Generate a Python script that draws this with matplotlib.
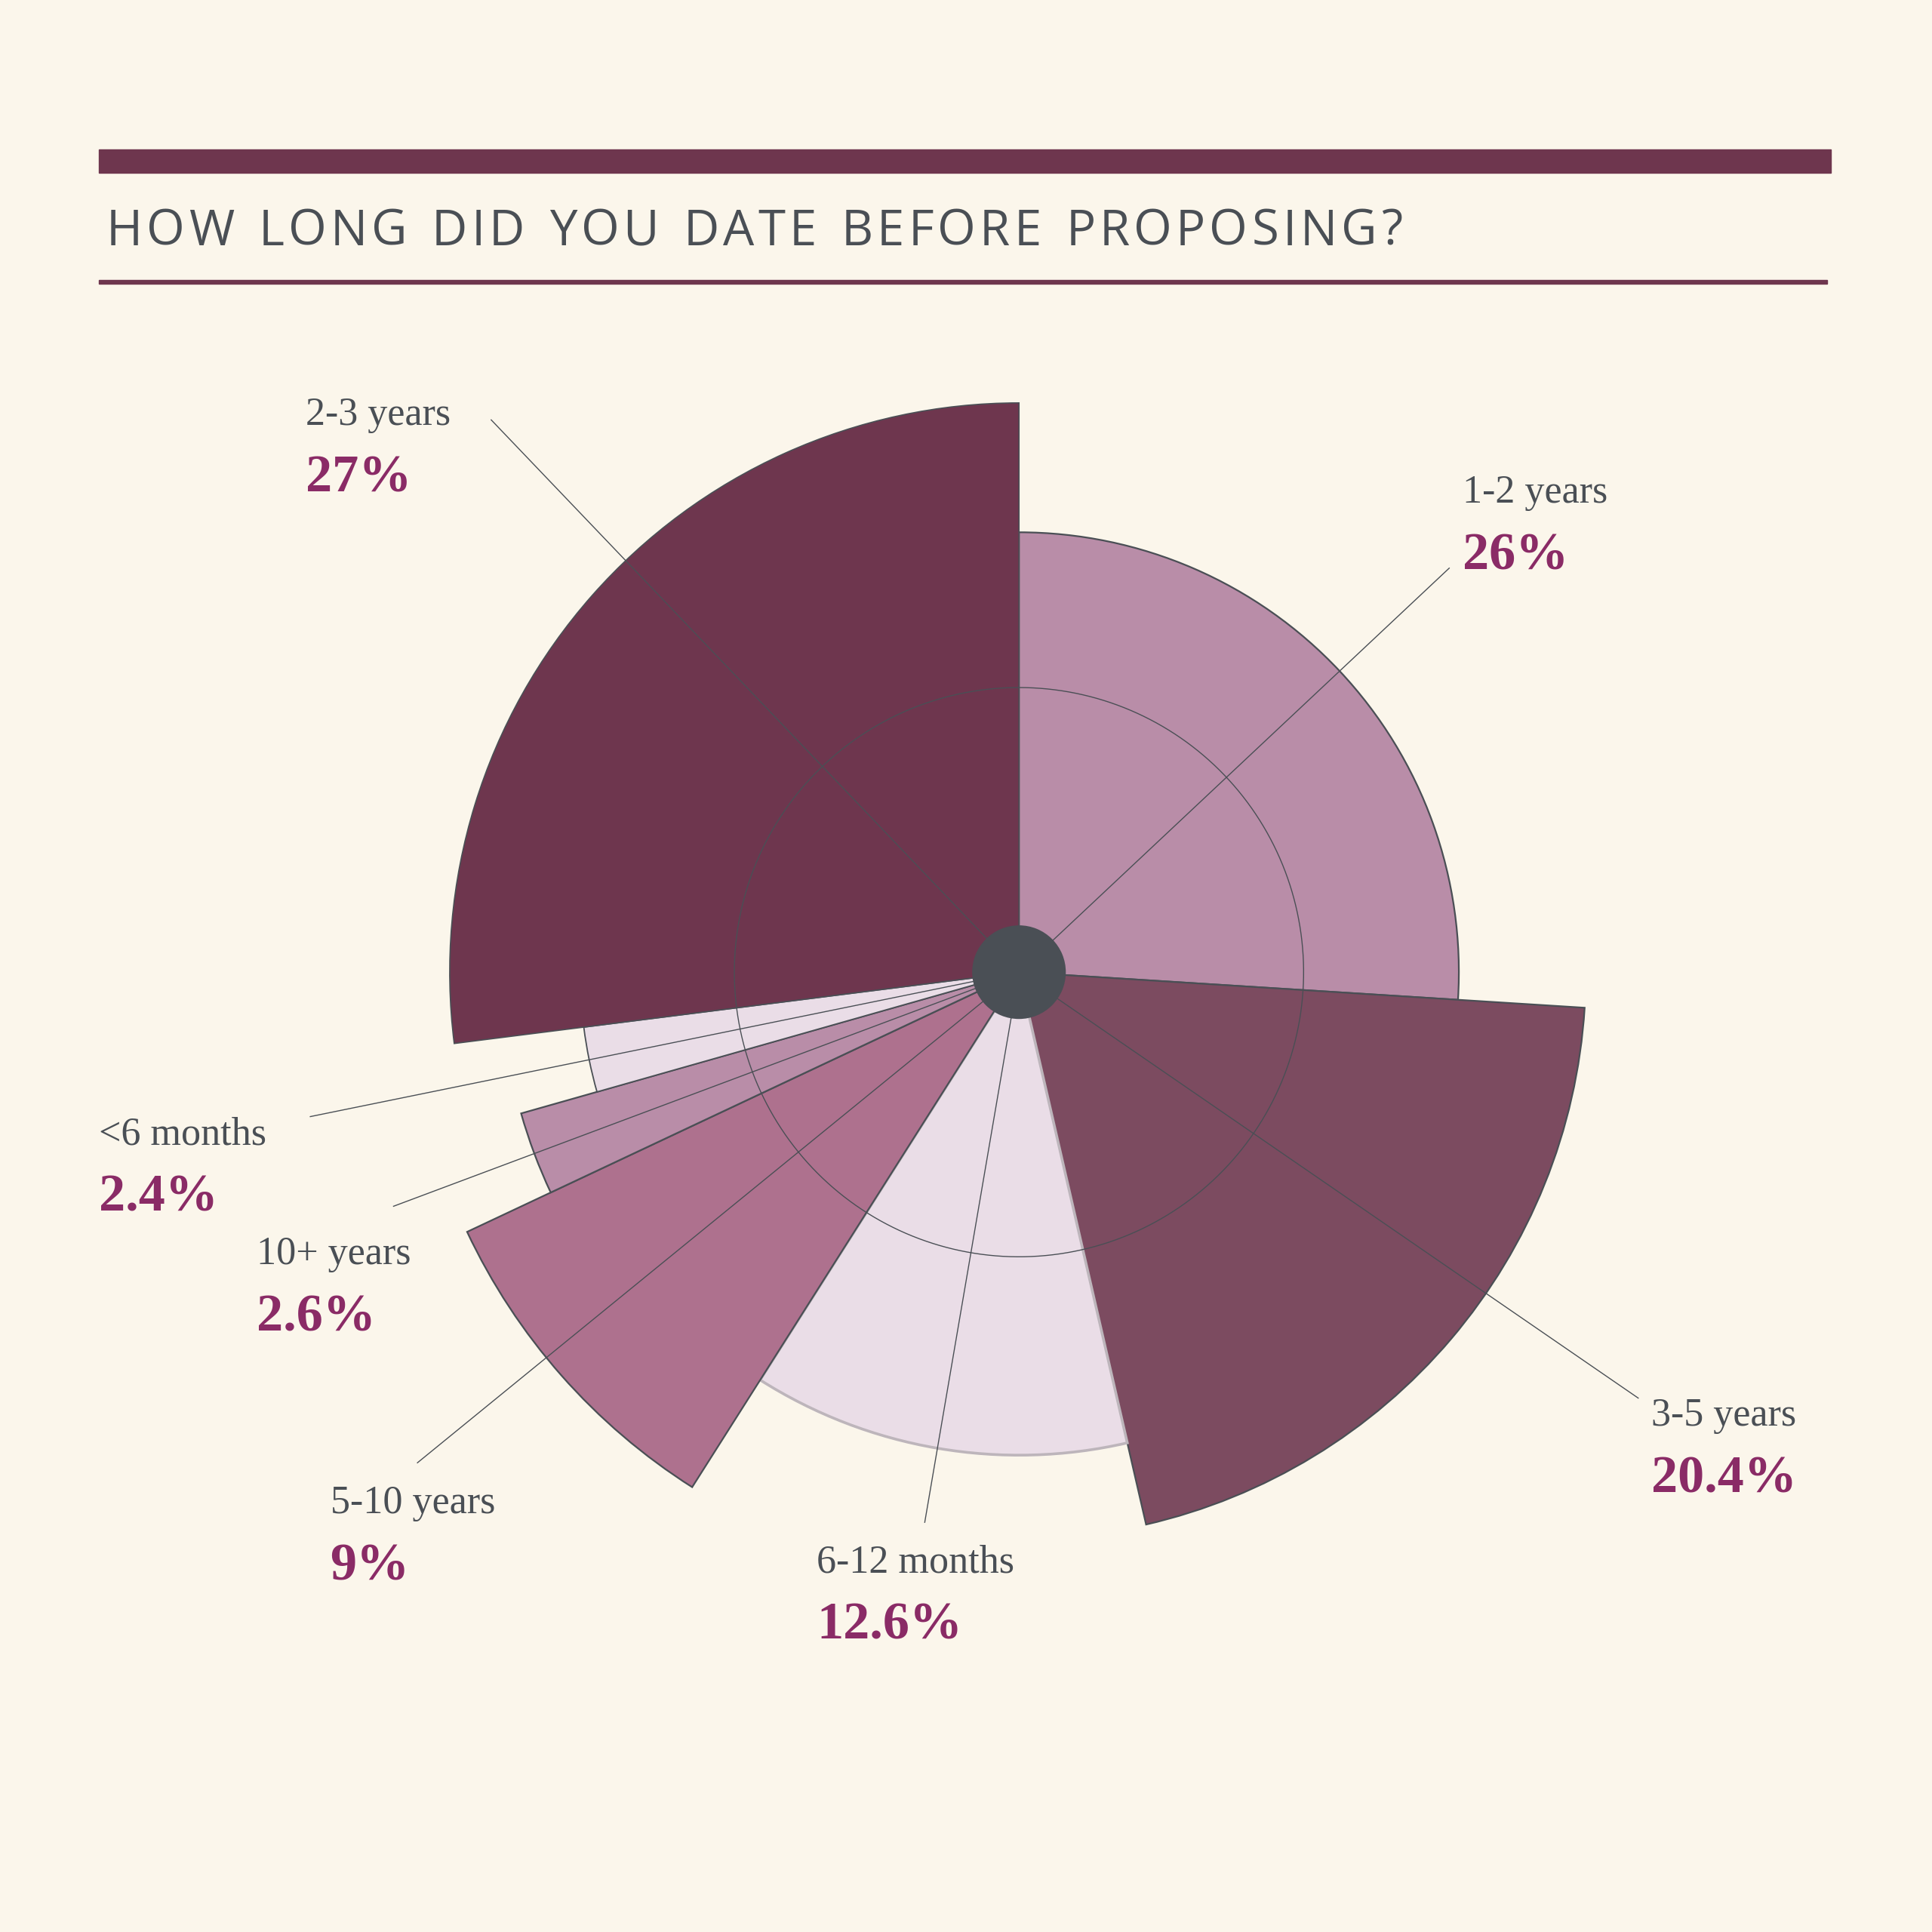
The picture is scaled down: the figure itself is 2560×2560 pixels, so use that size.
import numpy as np
import matplotlib.pyplot as plt
from matplotlib.patches import Rectangle

# data
categories = ['1-2 years', '3-5 years', '6-12 months', '5-10 years', '10+ years', '<6 months', '2-3 years']
shares = [26, 20.4, 12.6, 9, 2.6, 2.4, 27]
share_labels = ['26%', '20.4%', '12.6%', '9%', '2.6%', '2.4%', '27%']
radius = [357, 460, 392, 495, 420, 356, 462]
title = 'HOW LONG DID YOU DATE BEFORE PROPOSING?'

# styles
colors = ['#B98DA8', '#7C4B60', '#EADDE7', '#AE718E', '#B98DA8', '#EADDE7', '#6E364E']
edges = ['#4A4F55', '#4A4F55', '#BDB5BB', '#4A4F55', '#4A4F55', '#4A4F55', '#4A4F55']
edge_w = [1.6, 1.6, 2.6, 1.6, 1.6, 1.3, 1.2]
bg = '#FBF6EB'
dark = '#4A4F55'
maroon = '#6E364E'
pct_color = '#8A2B66'

# layout, in a 1568 px reference grid
S = 1568.0
CX, CY = 827, 789
RMAX = 500
label_xy = [(1187, 408), (1340, 1157), (663, 1276), (268, 1228), (208, 1026), (80, 929), (248, 345)]
leader_len = [479, 610, 453, 630, 542, 587, 620]
leader_nudge = [0, -5.8, 0, 2.2, 0, 0, 4.9]
grid_r = 231
hub_r = 38
title_x0, title_x1, title_base = 86, 1138, 199
title_size = 47

fig = plt.figure(figsize=(25.6, 25.6), dpi=100, facecolor=bg)

ax = fig.add_axes([(CX - RMAX) / S, 1 - (CY + RMAX) / S, 2 * RMAX / S, 2 * RMAX / S],
                  projection='polar')
ax.set_theta_zero_location('N')
ax.set_theta_direction(-1)
ax.set_ylim(0, RMAX)
ax.set_axis_off()

widths = np.array(shares) / 100 * 2 * np.pi
starts = np.concatenate([[0], np.cumsum(widths)[:-1]])
ax.bar(starts, radius, width=widths, align='edge', color=colors,
       edgecolor=edges, linewidth=edge_w, zorder=2)

# grid ring
t = np.linspace(0, 2 * np.pi, 500)
ax.plot(t, np.full_like(t, grid_r), color=dark, lw=1.0, zorder=3)

# leader lines from the hub
mids = starts + widths / 2
for m, n, L in zip(mids, leader_nudge, leader_len):
    a = m + np.deg2rad(n)
    ax.plot([a, a], [0, L], color=dark, lw=1.0, zorder=4, clip_on=False)

# hub
ax.bar(0, hub_r, width=2 * np.pi, bottom=0, color=dark, edgecolor='none', zorder=5)

# labels
for (x, y), name, pct in zip(label_xy, categories, share_labels):
    fig.text(x / S, 1 - y / S, name, fontsize=37.5, family='Liberation Serif',
             color=dark, va='baseline', ha='left')
    fig.text(x / S, 1 - (y + 54) / S, pct, fontsize=50.5, family='Liberation Serif',
             weight='bold', color=pct_color, va='baseline', ha='left')

# title block
fig.patches.append(Rectangle((80 / S, 1 - 140 / S), 1406 / S, 19 / S,
                             transform=fig.transFigure, color=maroon))
fig.patches.append(Rectangle((80 / S, 1 - 230 / S), 1403 / S, 3 / S,
                             transform=fig.transFigure, color=maroon))

# title with letter spacing: measure glyphs, then spread them over the width
renderer = fig.canvas.get_renderer()
W = fig.get_figwidth() * fig.dpi
tprops = dict(fontsize=title_size, family='Open Sans', color=dark, va='baseline', ha='left')
glyph_w = []
for ch in title:
    if ch == ' ':
        glyph_w.append(None)
        continue
    tmp = fig.text(0, 0, ch, **tprops)
    glyph_w.append(tmp.get_window_extent(renderer).width)
    tmp.remove()
space_w = 0.5 * title_size * fig.dpi / 72
n_gaps = sum(1 for i in range(len(title) - 1) if title[i] != ' ' and title[i + 1] != ' ')
ink = sum(g for g in glyph_w if g) + space_w * title.count(' ')
gap = ((title_x1 - title_x0) / S * W - ink) / max(n_gaps, 1)
x = title_x0 / S * W
for i, ch in enumerate(title):
    if ch == ' ':
        x += space_w
        continue
    fig.text(x / W, 1 - title_base / S, ch, **tprops)
    x += glyph_w[i]
    if i + 1 < len(title) and title[i + 1] != ' ':
        x += gap

plt.savefig('out.png', dpi=100, facecolor=bg)
